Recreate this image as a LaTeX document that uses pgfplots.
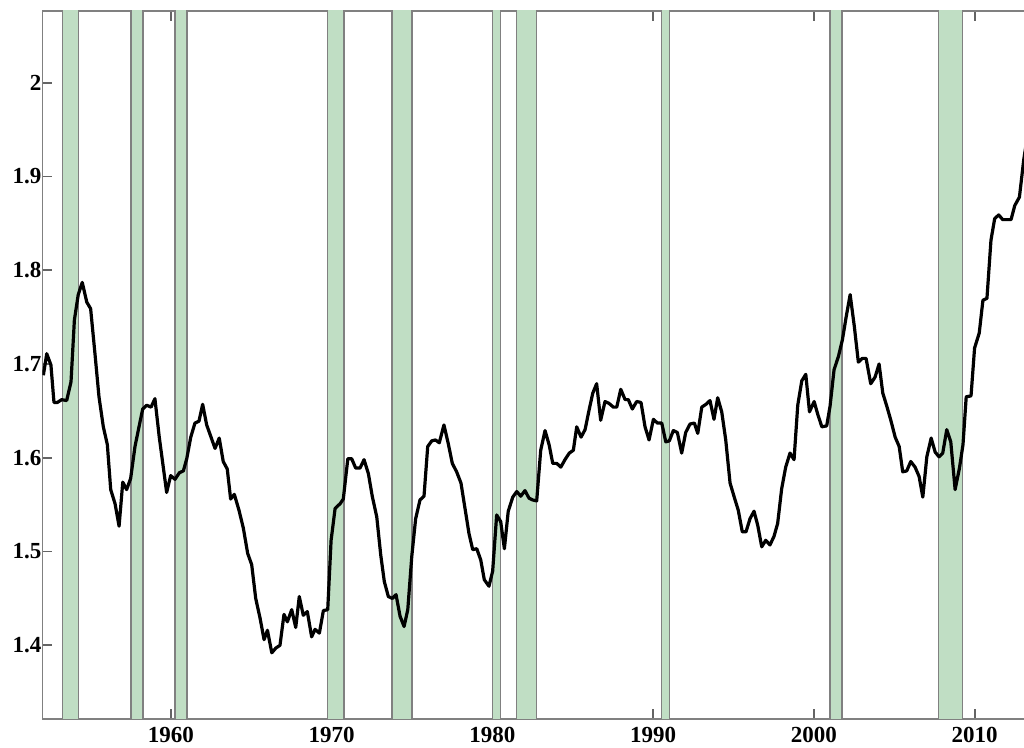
\documentclass[border=0pt]{standalone}
\usepackage{pgfplots}
\pgfplotsset{compat=1.18}
\usepackage{fontspec}
\setmainfont{Liberation Serif}
\definecolor{band}{RGB}{192,222,196}
\definecolor{edge}{RGB}{128,128,128}
\definecolor{tickc}{RGB}{100,100,100}
\begin{document}
\begin{tikzpicture}
\begin{axis}[
  scale only axis,
  width=495.9pt, height=354pt,
  xmin=1952, xmax=2013.7,
  ymin=1.3214, ymax=2.0765,
  xtick={1960,1970,1980,1990,2000,2010},
  ytick={1.4,1.5,1.6,1.7,1.8,1.9,2},
  xticklabels={1960,1970,1980,1990,2000,2010},
  yticklabels={1.4,1.5,1.6,1.7,1.8,1.9,2},
  major tick length=4.8pt,
  axis line style={edge, line width=0.6pt},
  tick style={tickc, line width=0.8pt},
  tick label style={font=\bfseries\fontsize{11.5}{13}\selectfont, black},
  /pgf/number format/assume math mode=true,
  xticklabel style={yshift=-0.5pt},
  yticklabel style={xshift=3pt},
]
% recession bands
\addplot[fill=band, draw=edge, line width=0.7pt] coordinates {(1953.25,1.3) (1953.25,2.1) (1954.25,2.1) (1954.25,1.3)} -- cycle;
\addplot[fill=band, draw=edge, line width=0.7pt] coordinates {(1957.5,1.3) (1957.5,2.1) (1958.25,2.1) (1958.25,1.3)} -- cycle;
\addplot[fill=band, draw=edge, line width=0.7pt] coordinates {(1960.25,1.3) (1960.25,2.1) (1961.0,2.1) (1961.0,1.3)} -- cycle;
\addplot[fill=band, draw=edge, line width=0.7pt] coordinates {(1969.75,1.3) (1969.75,2.1) (1970.75,2.1) (1970.75,1.3)} -- cycle;
\addplot[fill=band, draw=edge, line width=0.7pt] coordinates {(1973.75,1.3) (1973.75,2.1) (1975.0,2.1) (1975.0,1.3)} -- cycle;
\addplot[fill=band, draw=edge, line width=0.7pt] coordinates {(1980.0,1.3) (1980.0,2.1) (1980.5,2.1) (1980.5,1.3)} -- cycle;
\addplot[fill=band, draw=edge, line width=0.7pt] coordinates {(1981.5,1.3) (1981.5,2.1) (1982.75,2.1) (1982.75,1.3)} -- cycle;
\addplot[fill=band, draw=edge, line width=0.7pt] coordinates {(1990.5,1.3) (1990.5,2.1) (1991.0,2.1) (1991.0,1.3)} -- cycle;
\addplot[fill=band, draw=edge, line width=0.7pt] coordinates {(2001.0,1.3) (2001.0,2.1) (2001.75,2.1) (2001.75,1.3)} -- cycle;
\addplot[fill=band, draw=edge, line width=0.7pt] coordinates {(2007.75,1.3) (2007.75,2.1) (2009.25,2.1) (2009.25,1.3)} -- cycle;
% series
\addplot[black, line width=1.6pt, line join=round] coordinates {
(1952.06,1.688) (1952.27,1.711) (1952.53,1.699) (1952.72,1.659) (1952.93,1.659)
(1953.2,1.662) (1953.51,1.661) (1953.78,1.681) (1953.99,1.747) (1954.23,1.774)
(1954.48,1.787) (1954.76,1.766) (1955.0,1.759) (1955.27,1.711) (1955.52,1.665)
(1955.79,1.633) (1956.04,1.614) (1956.25,1.566) (1956.52,1.551) (1956.77,1.527)
(1957.0,1.574) (1957.24,1.566) (1957.49,1.578) (1957.76,1.612) (1958.01,1.633)
(1958.24,1.652) (1958.49,1.656) (1958.76,1.654) (1959.0,1.663) (1959.27,1.622)
(1959.52,1.590) (1959.73,1.563) (1959.98,1.581) (1960.25,1.577) (1960.52,1.584)
(1960.77,1.586) (1960.98,1.599) (1961.23,1.622) (1961.49,1.637) (1961.74,1.639)
(1961.97,1.657) (1962.22,1.635) (1962.74,1.610) (1963.0,1.621) (1963.25,1.596)
(1963.5,1.588) (1963.71,1.556) (1963.94,1.561) (1964.23,1.544) (1964.5,1.525)
(1964.77,1.498) (1965.02,1.486) (1965.27,1.450) (1965.54,1.429) (1965.79,1.406)
(1966.0,1.416) (1966.27,1.392) (1966.52,1.397) (1966.78,1.400) (1967.03,1.433)
(1967.24,1.425) (1967.51,1.438) (1967.76,1.419) (1967.98,1.452) (1968.23,1.432)
(1968.48,1.436) (1968.75,1.409) (1968.96,1.417) (1969.23,1.413) (1969.48,1.437)
(1969.75,1.438) (1969.96,1.512) (1970.21,1.546) (1970.52,1.551) (1970.72,1.556)
(1971.0,1.599) (1971.24,1.599) (1971.49,1.589) (1971.76,1.589) (1972.01,1.598)
(1972.28,1.583) (1972.52,1.559) (1972.8,1.537) (1973.05,1.496) (1973.27,1.468)
(1973.52,1.452) (1973.77,1.450) (1974.0,1.454) (1974.25,1.431) (1974.5,1.420)
(1974.73,1.438) (1974.98,1.495) (1975.22,1.535) (1975.49,1.555) (1975.74,1.559)
(1975.97,1.612) (1976.22,1.618) (1976.45,1.619) (1976.69,1.616) (1976.98,1.635)
(1977.25,1.615) (1977.5,1.594) (1977.77,1.585) (1978.04,1.573) (1978.29,1.546)
(1978.54,1.519) (1978.77,1.502) (1979.02,1.503) (1979.27,1.491) (1979.49,1.470)
(1979.78,1.463) (1980.01,1.479) (1980.26,1.539) (1980.51,1.532) (1980.74,1.503)
(1980.98,1.543) (1981.26,1.558) (1981.51,1.564) (1981.76,1.559) (1982.02,1.565)
(1982.27,1.557) (1982.5,1.555) (1982.75,1.554) (1983.0,1.608) (1983.27,1.629)
(1983.52,1.614) (1983.75,1.594) (1984.0,1.594) (1984.25,1.590) (1984.51,1.598)
(1984.78,1.605) (1985.03,1.608) (1985.24,1.633) (1985.51,1.622) (1985.76,1.630)
(1986.01,1.651) (1986.24,1.669) (1986.48,1.679) (1986.73,1.640) (1987.0,1.660)
(1987.25,1.658) (1987.52,1.654) (1987.73,1.654) (1987.98,1.673) (1988.25,1.662)
(1988.45,1.662) (1988.7,1.652) (1988.97,1.660) (1989.24,1.659) (1989.49,1.633)
(1989.74,1.619) (1990.01,1.641) (1990.26,1.637) (1990.53,1.637) (1990.78,1.617)
(1991.0,1.618) (1991.25,1.629) (1991.5,1.627) (1991.77,1.605) (1992.02,1.627)
(1992.29,1.636) (1992.56,1.637) (1992.77,1.626) (1993.02,1.654) (1993.28,1.657)
(1993.53,1.661) (1993.78,1.641) (1994.01,1.664) (1994.26,1.649) (1994.51,1.619)
(1994.78,1.573) (1995.04,1.558) (1995.29,1.544) (1995.54,1.521) (1995.77,1.521)
(1996.02,1.535) (1996.27,1.543) (1996.5,1.528) (1996.75,1.505) (1997.0,1.512)
(1997.26,1.507) (1997.51,1.516) (1997.74,1.530) (1997.99,1.567) (1998.24,1.590)
(1998.51,1.605) (1998.76,1.598) (1998.99,1.656) (1999.24,1.682) (1999.49,1.689)
(1999.72,1.649) (2000.01,1.660) (2000.24,1.646) (2000.49,1.633) (2000.79,1.634)
(2001.0,1.655) (2001.25,1.694) (2001.52,1.708) (2001.77,1.726) (2002.0,1.750)
(2002.25,1.774) (2002.51,1.740) (2002.76,1.702) (2003.01,1.706) (2003.24,1.706)
(2003.53,1.679) (2003.8,1.686) (2004.05,1.700) (2004.28,1.669) (2004.53,1.655)
(2004.78,1.640) (2005.05,1.622) (2005.3,1.612) (2005.52,1.585) (2005.77,1.586)
(2006.02,1.596) (2006.29,1.590) (2006.54,1.580) (2006.77,1.558) (2007.02,1.601)
(2007.29,1.621) (2007.54,1.606) (2007.78,1.601) (2008.01,1.605) (2008.26,1.630)
(2008.51,1.617) (2008.78,1.566) (2009.05,1.589) (2009.27,1.614) (2009.47,1.665)
(2009.77,1.666) (2009.99,1.717) (2010.28,1.733) (2010.51,1.768) (2010.76,1.770)
(2011.01,1.832) (2011.24,1.855) (2011.49,1.859) (2011.74,1.854) (2012.01,1.854)
(2012.26,1.854) (2012.49,1.869) (2012.78,1.878) (2013.05,1.918) (2013.25,1.94)
};
\end{axis}
\pgfresetboundingbox
\path[use as bounding box] (-21.2pt,-14.5pt) rectangle (490.8pt,359.5pt);
\end{tikzpicture}
\end{document}
